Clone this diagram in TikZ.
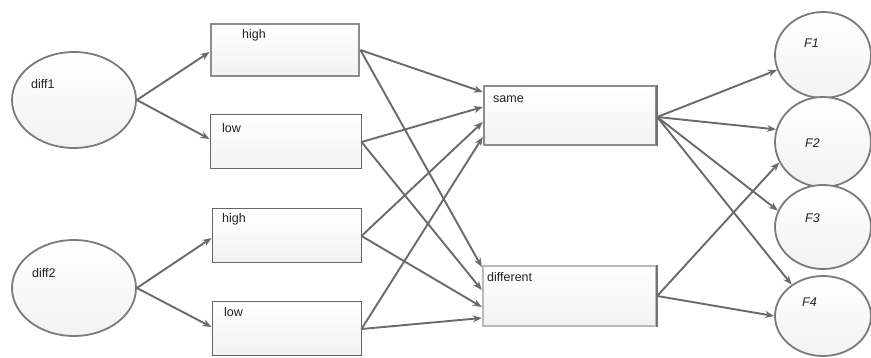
\documentclass[tikz,border=0pt]{standalone}
\usepackage{fontspec}
\setmainfont{Liberation Sans}
\usetikzlibrary{arrows.meta,shapes.geometric}
\definecolor{edgec}{HTML}{6A6A6A}
\definecolor{ellc}{HTML}{7A7A7A}
\definecolor{boxc}{HTML}{666666}
\definecolor{txtc}{HTML}{222222}
\tikzset{
  ell/.style={ellipse,draw=ellc,line width=1.8pt,top color=white,bottom color=black!5,inner sep=0pt},
  boxn/.style={rectangle,draw=boxc,line width=1pt,top color=white,bottom color=black!5,inner sep=0pt},
  thickbox/.style={boxn,draw=black!45,line width=2.8pt},
  samebox/.style={boxn,draw=black!45,line width=2.4pt},
  diffbox/.style={boxn,draw=black!27,line width=2.4pt},
  lbl/.style={anchor=base west,inner sep=0pt,text=txtc,font=\fontsize{12.5}{14}\selectfont},
  conn/.style={draw=edgec,line width=1.9pt,-{Stealth[length=9pt,width=7pt]}},
}
\begin{document}
\begin{tikzpicture}[x=1pt,y=-1pt]
\useasboundingbox (0,0) rectangle (871,358);
% left ellipses
\node[ell,minimum width=124pt,minimum height=96pt] (d1) at (74,100) {};
\node[ell,minimum width=124pt,minimum height=96pt] (d2) at (74,288) {};
% first column boxes
\node[thickbox,minimum width=148pt,minimum height=52pt] (h1) at (285,50) {};
\node[boxn,minimum width=151pt,minimum height=54pt] (l1) at (285.5,142) {};
\node[boxn,minimum width=149pt,minimum height=54pt] (h2) at (286.5,236) {};
\node[boxn,minimum width=149pt,minimum height=54pt] (l2) at (286.5,329) {};
% middle boxes
\node[samebox,minimum width=172pt,minimum height=59pt] (same) at (570,115.5) {};
\node[diffbox,minimum width=173pt,minimum height=60pt] (diff) at (569.5,296) {};
\draw[black!55,line width=2.4pt] (same.north east) -- (same.south east);
\draw[black!55,line width=2.4pt] (diff.north east) -- (diff.south east);
% right ellipses
\node[ell,minimum width=96pt,minimum height=86pt] (F1) at (823,55) {};
\node[ell,minimum width=96pt,minimum height=90pt] (F2) at (823,142) {};
\node[ell,minimum width=96pt,minimum height=84pt] (F3) at (823,227) {};
\node[ell,minimum width=96pt,minimum height=80pt] (F4) at (823,316) {};
% labels
\node[lbl] (td1) at (31,89) {diff1};
\node[lbl] (td2) at (32,278) {diff2};
\node[lbl] (th1) at (242,39) {high};
\node[lbl] (tl1) at (222,133) {low};
\node[lbl] (th2) at (222,223) {high};
\node[lbl] (tl2) at (224,317) {low};
\node[lbl] (tsame) at (493,103) {same};
\node[lbl] (tdiff) at (487,282) {different};
\node[lbl] (tF1) at (804,48) {\itshape F1};
\node[lbl] (tF2) at (805,148) {\itshape F2};
\node[lbl] (tF3) at (805,223) {\itshape F3};
\node[lbl] (tF4) at (802,307) {\itshape F4};
% connectors: diff -> first column
\draw[conn] (d1.east) -- ([yshift=-2pt]h1.west);
\draw[conn] (d1.east) -- ([yshift=3pt]l1.west);
\draw[conn] (d2.east) -- ([yshift=-2pt]h2.west);
\draw[conn] (d2.east) -- ([yshift=2pt]l2.west);
% first column -> same
\draw[conn] (h1.east) -- ([yshift=23.5pt]same.west);
\draw[conn] (l1.east) -- ([yshift=8.5pt]same.west);
\draw[conn] (h2.east) -- ([yshift=-6.5pt]same.west);
\draw[conn] (l2.east) -- ([yshift=-21.5pt]same.west);
% first column -> different
\draw[conn] (h1.east) -- ([yshift=29pt]diff.west);
\draw[conn] (l1.east) -- ([yshift=6pt]diff.west);
\draw[conn] (h2.east) -- ([yshift=-11pt]diff.west);
\draw[conn] (l2.east) -- ([yshift=-22pt]diff.west);
% middle -> F
\draw[conn] ([yshift=-1.5pt]same.east) -- (F1.198);
\draw[conn] ([yshift=-1.5pt]same.east) -- (F2.165);
\draw[conn] ([yshift=-1.5pt]same.east) -- (F3.160);
\draw[conn] ([yshift=-1.5pt]same.east) -- (F4.135);
\draw[conn] (diff.east) -- (F2.205);
\draw[conn] (diff.east) -- (F4.west);
\end{tikzpicture}
\end{document}
